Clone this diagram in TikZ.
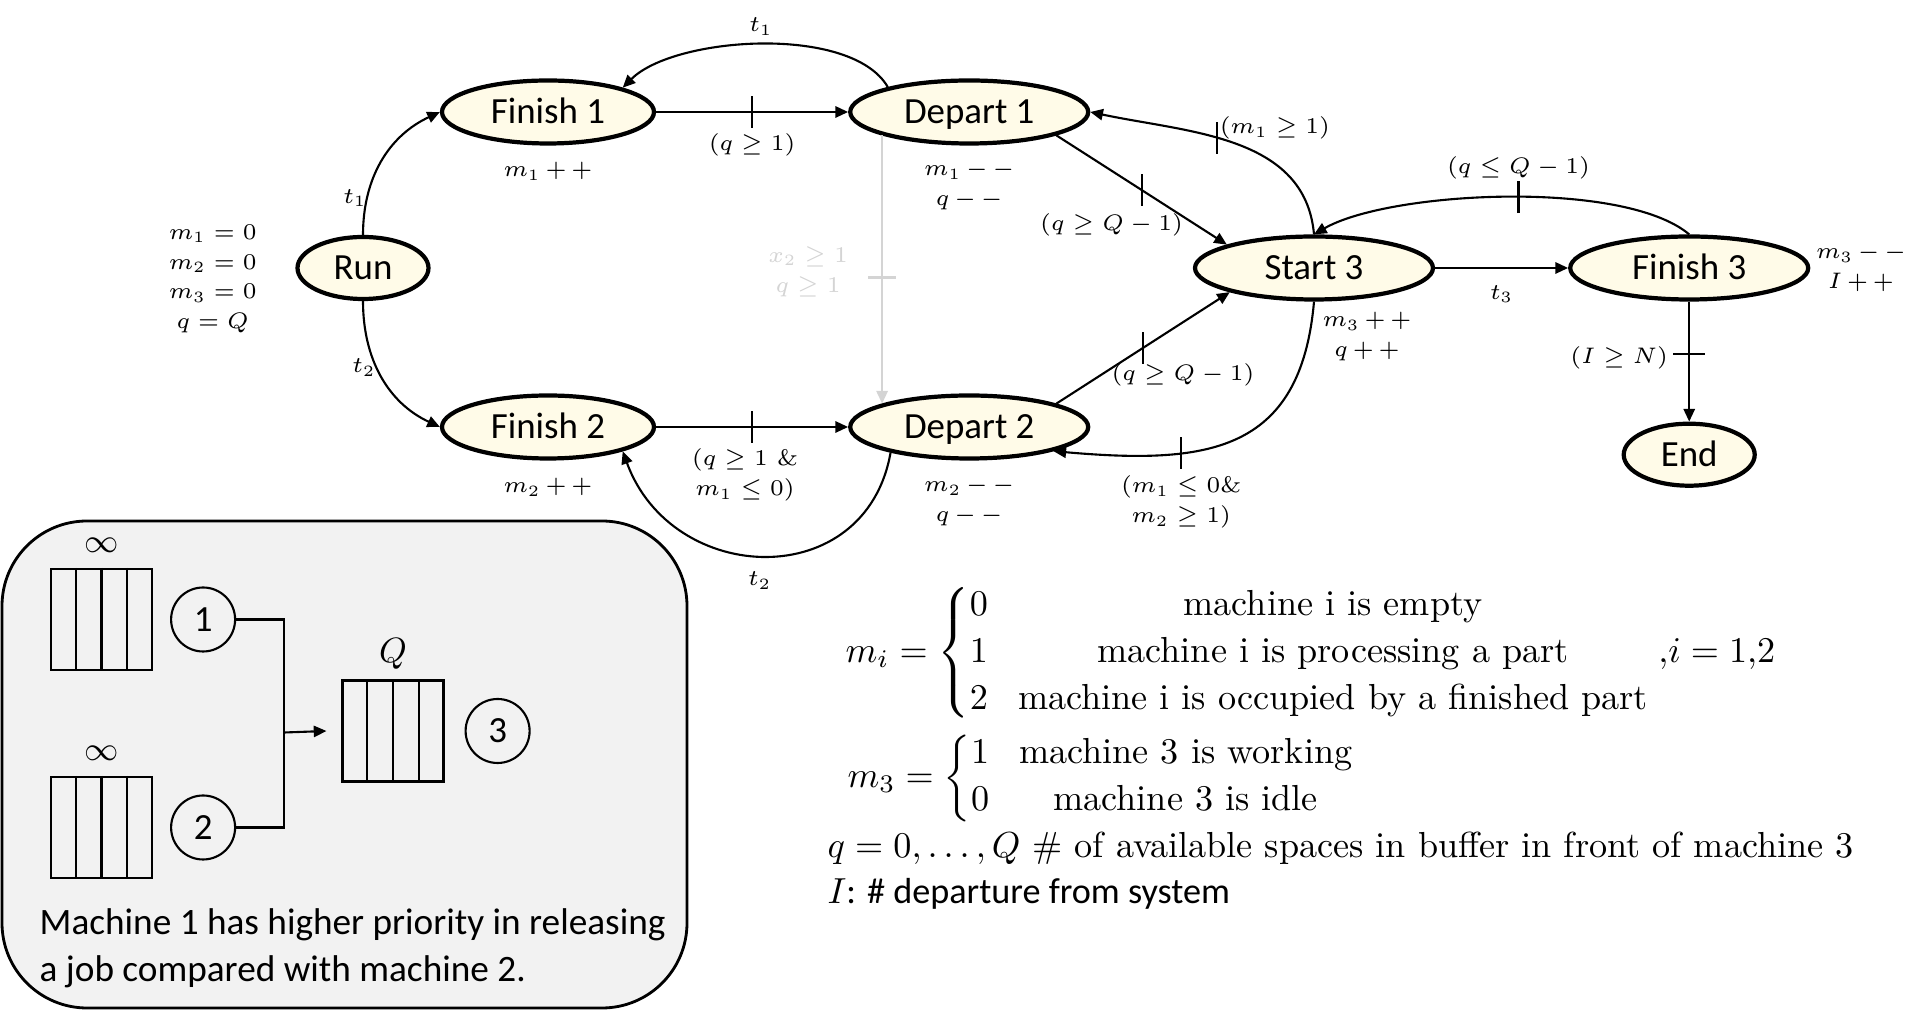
\RequirePackage{fix-cm}
\documentclass[tikz,border=0pt]{standalone}
\usepackage{amsmath,amssymb}
\usepackage{fontspec}
\setsansfont{Carlito}
\usepackage{tikz}
\usetikzlibrary{arrows.meta,positioning,calc,shapes.geometric}
\definecolor{statefill}{RGB}{255,251,232}
\definecolor{boxfill}{RGB}{242,242,242}
\definecolor{hintgray}{RGB}{212,212,212}

\begin{document}
\begin{tikzpicture}[
    font=\sffamily,
    >={Triangle[length=3.6pt,width=3.2pt]},
    state/.style={
        ellipse,
        draw=black,
        fill=statefill,
        line width=1.2pt,
        inner sep=0pt,
        minimum width=2.38cm,
        minimum height=0.63cm,
        text height=0.644em,
        text depth=0pt,
        font=\sffamily\fontsize{10.5}{12}\selectfont
    },
    smallstate/.style={
        state,
        minimum width=1.31cm,
        minimum height=0.62cm
    },
    midstate/.style={
        state,
        minimum width=2.12cm
    },
    arrow/.style={
        ->,
        line width=0.6pt,
        draw=black
    },
    grayarrow/.style={
        ->,
        line width=0.6pt,
        draw=hintgray
    },
    tickline/.style={
        line width=0.6pt,
        draw=black
    },
    lbl/.style={
        font=\fontsize{6.4}{8.5}\selectfont,
        align=center,
        inner sep=0pt
    },
    graylbl/.style={
        lbl,
        text=hintgray
    },
    queue/.style={
        rectangle,
        draw=black,
        line width=0.6pt,
        minimum width=1.01cm,
        minimum height=1.01cm,
        inner sep=0pt
    },
    machine/.style={
        circle,
        draw=black,
        line width=0.6pt,
        minimum size=0.64cm,
        inner sep=0pt,
        font=\sffamily\fontsize{10.5}{12}\selectfont
    },
    boxtext/.style={
        font=\sffamily\fontsize{10.6}{13.3}\selectfont,
        align=left,
        inner sep=0pt
    },
    deftext/.style={
        font=\rmfamily\fontsize{10.3}{13.3}\selectfont,
        inner sep=0pt,
        anchor=west
    }
]

\useasboundingbox (0,0) rectangle (19.13,-10.14);

% states
\node[smallstate] (run) at (3.63,-2.68) {Run};
\node[midstate] (fin1) at (5.48,-1.12) {Finish 1};
\node[state, right=1.92cm of fin1] (dep1) {Depart 1};
\node[midstate] (fin2) at (5.48,-4.27) {Finish 2};
\node[state, right=1.92cm of fin2] (dep2) {Depart 2};
\node[state] (start3) at (13.14,-2.68) {Start 3};
\node[state, right=1.33cm of start3] (fin3) {Finish 3};
\node[smallstate, below=1.2cm of fin3] (finish) {End};

% state updates
\node[lbl, left=0.38cm of run, yshift=-0.11cm] (init) {$m_1=0$\\$m_2=0$\\$m_3=0$\\$q=Q$};
\node[lbl, below=0.16cm of fin1] {$m_1\,{+}\,{+}$};
\node[lbl, below=0.15cm of dep1] {$m_1\,{-}\,{-}$\\$q\,{-}\,{-}$};
\node[lbl, below=0.17cm of fin2] {$m_2\,{+}\,{+}$};
\node[lbl, below=0.16cm of dep2] {$m_2\,{-}\,{-}$\\$q\,{-}\,{-}$};
\node[lbl, below=0.10cm of start3, xshift=0.53cm] {$m_3\,{+}\,{+}$\\$q\,{+}\,{+}$};
\node[lbl, right=0.05cm of fin3] {$m_3\,{-}\,{-}$\\$I\,{+}\,{+}$};

% events
\draw[arrow] (run.north) to[out=90, in=205] node[lbl, pos=0.23, xshift=-0.12cm] {$t_1$} (fin1.west);
\draw[arrow] (run.south) to[out=-90, in=155] node[lbl, pos=0.43, xshift=-0.13cm] {$t_2$} (fin2.west);

\draw[arrow] (fin1) -- coordinate[pos=0.5] (k1) node[lbl, pos=0.5, yshift=-0.33cm] {$(q\geq 1)$} (dep1);
\draw[arrow] (fin2) -- coordinate[pos=0.5] (k2) node[lbl, pos=0.5, xshift=-0.07cm, yshift=-0.48cm] {$(q\geq 1\ \&$\\$m_1\leq 0)$} (dep2);

\draw[arrow] (dep1.163) to[out=120, in=45, looseness=0.7] node[lbl, pos=0.5, yshift=0.18cm] {$t_1$} (fin1.18);
\draw[arrow] (dep2.198) to[out=-100, in=-70, looseness=1.37] node[lbl, pos=0.5, xshift=-0.06cm, yshift=-0.25cm] {$t_2$} (fin2.-18);

\draw[arrow] (dep1.-15) -- coordinate[pos=0.5] (k3) node[lbl, pos=0.5, xshift=-0.30cm, yshift=-0.35cm] {$(q\geq Q-1)$} (start3.165);
\draw[arrow] (dep2.15) -- coordinate[pos=0.5] (k4) node[lbl, pos=0.5, xshift=0.40cm, yshift=-0.27cm] {$(q\geq Q-1)$} (start3.196);

\draw[arrow] (start3.north) to[out=95, in=-12] coordinate[pos=0.57] (k5) node[lbl, pos=0.57, xshift=0.58cm, yshift=0.10cm] {$(m_1\geq 1)$} (dep1.east);
\draw[arrow] (start3.south) to[out=-95, in=-5, looseness=1.3] coordinate[pos=0.68] (k6) node[lbl, pos=0.68, yshift=-0.49cm] {$(m_1\leq 0\&$\\$m_2\geq 1)$} (dep2.-16);

\draw[arrow] (start3) -- node[lbl, pos=0.5, yshift=-0.26cm] {$t_3$} (fin3);
\draw[arrow] (fin3.north) to[out=140, in=30, looseness=0.59] coordinate[pos=0.47] (k7) node[lbl, pos=0.47, yshift=0.29cm] {$(q\leq Q-1)$} (start3.north);
\draw[arrow] (fin3) -- coordinate[pos=0.44] (k8) node[lbl, pos=0.44, xshift=-0.70cm, yshift=-0.03cm] {$(I\geq N)$} (finish);

\draw[grayarrow] (dep1.195) -- coordinate[pos=0.53] (k9) node[graylbl, pos=0.53, xshift=-0.74cm, yshift=0.06cm] {$x_2\geq 1$\\$q\geq 1$} (dep2.165);

% guard marks
\foreach \k in {k1,k2,k3,k4,k5,k6,k7}
    \draw[tickline] ([yshift=-0.16cm]\k) -- ([yshift=0.16cm]\k);
\draw[tickline] ([xshift=-0.16cm]k8) -- ([xshift=0.16cm]k8);
\draw[tickline, draw=hintgray] ([xshift=-0.14cm]k9) -- ([xshift=0.14cm]k9);

% system sketch
\node[draw=black, fill=boxfill, line width=0.8pt, rounded corners=0.85cm,
      minimum width=6.85cm, minimum height=4.87cm, inner sep=0pt] (legbox) at (3.445,-7.645) {};

\node[queue] (q1) at (1.015,-6.195) {};
\node[queue] (q2) at (1.015,-8.275) {};
\node[queue] (q3) at (3.93,-7.31) {};
\foreach \q in {q1,q2,q3}
    \foreach \f in {0.25,0.5,0.75}
        \draw[line width=0.6pt] ($(\q.north west)!\f!(\q.north east)$) -- ($(\q.south west)!\f!(\q.south east)$);

\node[above=0.15cm of q1, font=\fontsize{9.5}{10}\selectfont, inner sep=0pt] {$\infty$};
\node[above=0.15cm of q2, font=\fontsize{9.5}{10}\selectfont, inner sep=0pt] {$\infty$};
\node[above=0.09cm of q3, font=\fontsize{10}{12}\selectfont, inner sep=0pt] {$Q$};

\node[machine, right=0.17cm of q1] (m1) {1};
\node[machine, right=0.17cm of q2] (m2) {2};
\node[machine, right=0.20cm of q3] (m3) {3};

\coordinate (join) at ($(m1.east)+(0.48,-1.13)$);
\draw[line width=0.6pt] (m1.east) -| (join) |- (m2.east);
\draw[arrow] (join) -- ([xshift=-0.15cm]q3.west);

\node[boxtext, anchor=west] (note) at (0.39,-9.48) {Machine 1 has higher priority in releasing\\a job compared with machine 2.};

% state variables
\node[deftext] (midef) at (8.45,-6.53) {$m_i=\left\{\begin{array}{@{}l@{\hspace{0.30cm}}c@{}}
    0 & \text{machine i is empty}\\
    1 & \text{machine i is processing a part}\\
    2 & \text{machine i is occupied by a finished part}
    \end{array}\right.{,}i=1{,}2$};
\node[deftext] (m3def) at (8.47,-7.78) {$m_3=\left\{\begin{array}{@{}l@{\hspace{0.30cm}}c@{}}
    1 & \text{machine 3 is working}\\
    0 & \text{machine 3 is idle}
    \end{array}\right.$};
\node[deftext] (qdef) at (8.27,-8.48) {$q=0,\dots,Q$ \# of available spaces in buffer in front of machine 3};
\node[deftext, font=\sffamily\fontsize{10.3}{13.3}\selectfont] (idef) at (8.27,-8.94) {$I$: \# departure from system};

\end{tikzpicture}
\end{document}
